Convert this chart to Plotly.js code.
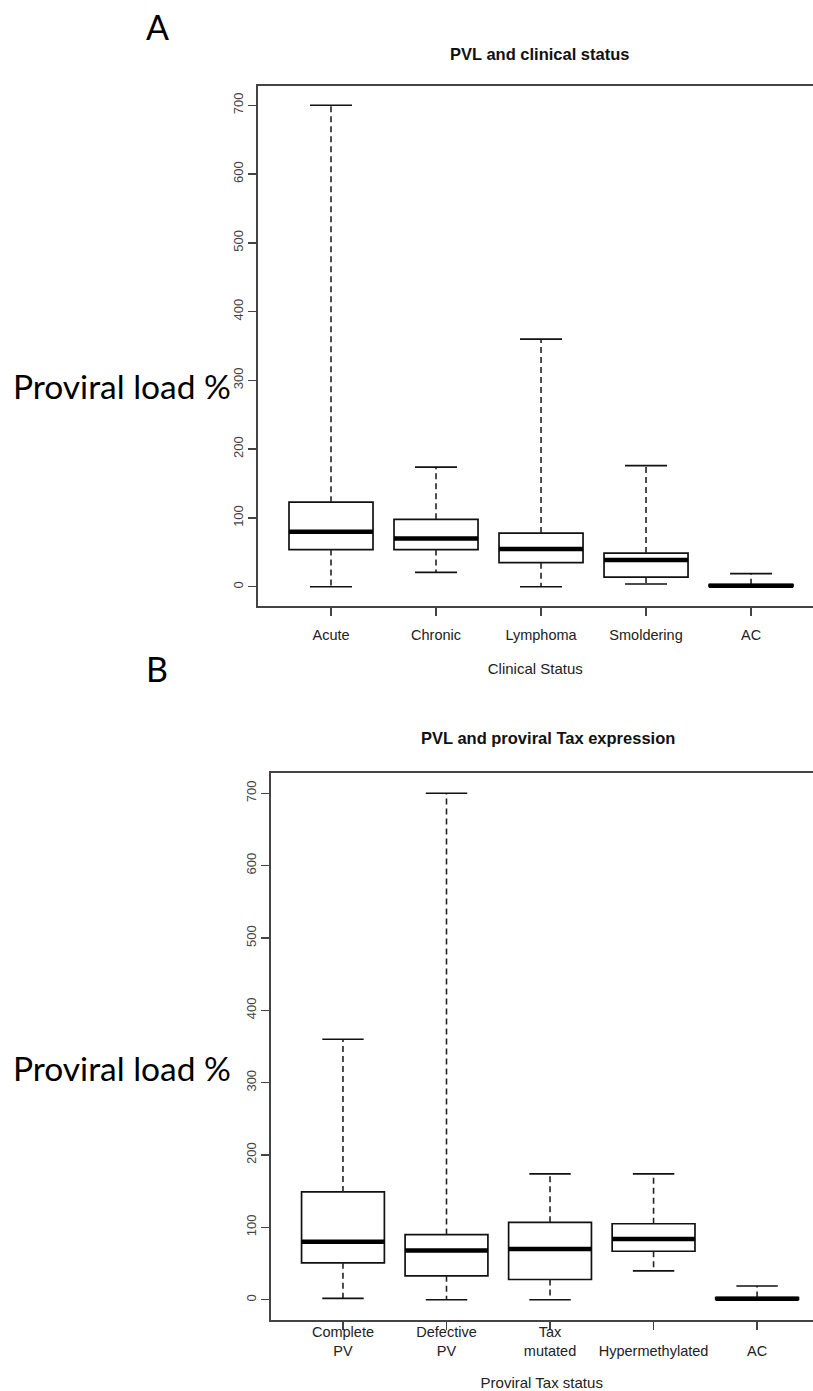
<!DOCTYPE html>
<html>
<head>
<meta charset="utf-8">
<script src="https://cdn.plot.ly/plotly-3.0.1.min.js"></script>
<style>html,body{margin:0;padding:0;background:#fff}</style>
</head>
<body>
<div id="chart" style="width:813px;height:1391px"></div>
<script>
// ---- Panel A data: PVL by clinical status ----
const clinicalCategories = ['Acute', 'Chronic', 'Lymphoma', 'Smoldering', 'AC'];
const clinicalLower  = [0,   21,  0,   4,   0];
const clinicalQ1     = [54,  54,  35,  14,  0.5];
const clinicalMedian = [80,  70,  55,  39,  1.5];
const clinicalQ3     = [123, 98,  78,  49,  3];
const clinicalUpper  = [700, 174, 360, 176, 19];

// ---- Panel B data: PVL by proviral Tax status ----
const taxCategories  = ['Complete PV', 'Defective PV', 'Tax mutated', 'Hypermethylated', 'AC'];
const taxTickLabels  = ['Complete<br>PV', 'Defective<br>PV', 'Tax<br>mutated', ' <br>Hypermethylated', ' <br>AC'];
const taxLower  = [2,   0,   0,   40,  0];
const taxQ1     = [51,  33,  28,  67,  0.5];
const taxMedian = [80,  68,  70,  84,  1.5];
const taxQ3     = [149, 90,  107, 105, 3];
const taxUpper  = [360, 700, 174, 174, 19];

const yTicks = [0, 100, 200, 300, 400, 500, 600, 700];

const BOX_W = 0.8, CAP_HALF = 0.2;

function panelTraces(cats, lower, q1, med, q3, upper, xa, ya) {
  const pos = cats.map((c, i) => i + 1);
  const box = {
    type: 'box', x: pos, q1: q1, median: med, q3: q3,
    lowerfence: q1, upperfence: q3,
    width: BOX_W, whiskerwidth: 0, boxpoints: false,
    fillcolor: 'rgba(255,255,255,0)',
    line: {color: '#111', width: 1.7},
    xaxis: xa, yaxis: ya, hoverinfo: 'skip', showlegend: false
  };
  const wx = [], wy = [], cx = [], cy = [], mx = [], my = [];
  pos.forEach((p, i) => {
    wx.push(p, p, null, p, p, null);
    wy.push(q3[i], upper[i], null, q1[i], lower[i], null);
    cx.push(p - CAP_HALF, p + CAP_HALF, null, p - CAP_HALF, p + CAP_HALF, null);
    cy.push(upper[i], upper[i], null, lower[i], lower[i], null);
    mx.push(p - BOX_W / 2, p + BOX_W / 2, null);
    my.push(med[i], med[i], null);
  });
  const whisk = {type: 'scatter', mode: 'lines', x: wx, y: wy, xaxis: xa, yaxis: ya,
    line: {color: '#222', width: 1.6, dash: '6px,4px'}, hoverinfo: 'skip', showlegend: false, connectgaps: false};
  const caps = {type: 'scatter', mode: 'lines', x: cx, y: cy, xaxis: xa, yaxis: ya,
    line: {color: '#111', width: 1.7}, hoverinfo: 'skip', showlegend: false, connectgaps: false};
  const meds = {type: 'scatter', mode: 'lines', x: mx, y: my, xaxis: xa, yaxis: ya,
    line: {color: '#000', width: 4.5}, hoverinfo: 'skip', showlegend: false, connectgaps: false};
  return [box, whisk, caps, meds];
}

const data = [].concat(
  panelTraces(clinicalCategories, clinicalLower, clinicalQ1, clinicalMedian, clinicalQ3, clinicalUpper, 'x', 'y'),
  panelTraces(taxCategories, taxLower, taxQ1, taxMedian, taxQ3, taxUpper, 'x2', 'y2')
);

const W = 813, H = 1391;
const axisCommon = {
  showline: true, linecolor: '#444', linewidth: 1.6,
  ticks: 'outside', ticklen: 8, tickwidth: 1.5, tickcolor: '#444',
  showgrid: false, zeroline: false, fixedrange: true
};
const tickFontX = {family: 'Liberation Sans, Arial, sans-serif', size: 14.5, color: '#222'};
const tickFontY = {family: 'Liberation Sans, Arial, sans-serif', size: 13, color: '#444'};
const titleFont = {family: 'Liberation Sans, Arial, sans-serif', size: 15, color: '#222'};
const mainFont = {family: 'Liberation Sans, Arial, sans-serif', size: 16.5, color: '#111'};
const bigFont = {family: 'Lato, Open Sans, sans-serif', size: 33.5, color: '#000'};
const letterFont = {family: 'Lato, Open Sans, sans-serif', size: 34, color: '#000'};

const layout = {
  width: W, height: H,
  margin: {l: 0, r: 0, t: 0, b: 0},
  paper_bgcolor: '#fff', plot_bgcolor: '#fff',
  showlegend: false,
  xaxis: Object.assign({}, axisCommon, {
    domain: [257.5 / W, 1], range: [0.3, 5.59], anchor: 'y', mirror: true,
    tickvals: clinicalCategories.map((c, i) => i + 1), ticktext: clinicalCategories,
    tickfont: tickFontX, ticklabelstandoff: 7,
    title: {text: 'Clinical Status', font: titleFont, standoff: 21}
  }),
  yaxis: Object.assign({}, axisCommon, {
    domain: [1 - 606 / H, 1 - 86 / H], range: [-28, 728], anchor: 'x',
    tickvals: yTicks, ticktext: yTicks.map(String), tickangle: -90, tickfont: tickFontY
  }),
  xaxis2: Object.assign({}, axisCommon, {
    domain: [270.5 / W, 1], range: [0.3, 5.54], anchor: 'y2', mirror: true,
    tickvals: taxCategories.map((c, i) => i + 1), ticktext: taxTickLabels,
    tickfont: tickFontX, ticklabelstandoff: -10,
    title: {text: 'Proviral Tax status', font: titleFont, standoff: 22}
  }),
  yaxis2: Object.assign({}, axisCommon, {
    domain: [1 - 1320 / H, 1 - 773 / H], range: [-28, 728], anchor: 'x2',
    tickvals: yTicks, ticktext: yTicks.map(String), tickangle: -90, tickfont: tickFontY
  }),
  annotations: [
    {text: 'A', x: 157 / W, y: 1 - 26 / H, xref: 'paper', yref: 'paper', showarrow: false,
     xanchor: 'center', yanchor: 'middle', font: letterFont},
    {text: 'B', x: 157 / W, y: 1 - 668 / H, xref: 'paper', yref: 'paper', showarrow: false,
     xanchor: 'center', yanchor: 'middle', font: letterFont},
    {text: '<b>PVL and clinical status</b>', x: 539 / W, y: 1 - 54 / H, xref: 'paper', yref: 'paper', showarrow: false,
     xanchor: 'center', yanchor: 'middle', font: mainFont},
    {text: '<b>PVL and proviral Tax expression</b>', x: 548 / W, y: 1 - 738 / H, xref: 'paper', yref: 'paper', showarrow: false,
     xanchor: 'center', yanchor: 'middle', font: mainFont},
    {text: 'Proviral load %', x: 11 / W, y: 1 - 386 / H, xref: 'paper', yref: 'paper', showarrow: false,
     xanchor: 'left', yanchor: 'middle', font: bigFont},
    {text: 'Proviral load %', x: 11 / W, y: 1 - 1068 / H, xref: 'paper', yref: 'paper', showarrow: false,
     xanchor: 'left', yanchor: 'middle', font: bigFont}
  ]
};

Plotly.newPlot('chart', data, layout, {staticPlot: true, displayModeBar: false});
</script>
</body>
</html>
